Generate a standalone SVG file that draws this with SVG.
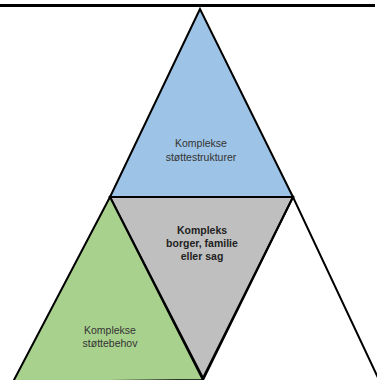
<svg xmlns="http://www.w3.org/2000/svg" width="377" height="380" viewBox="0 0 377 380">
<style>
.tri{stroke:#000;stroke-width:2;stroke-linejoin:miter}
.t{font-family:"Liberation Sans",Arial,sans-serif;font-size:10.5px;fill:#333;text-anchor:middle}
.b{font-weight:bold;fill:#222}
</style>
<rect width="377" height="380" fill="#fff"/>
<line x1="0" y1="5.5" x2="375" y2="5.5" stroke="#000" stroke-width="3"/>
<g id="node-top">
<polygon class="tri" points="200,9 110,197 293,197" fill="#9DC3E6"/>
<text class="t" x="201" y="147">Komplekse</text>
<text class="t" x="201" y="161">støttestrukturer</text>
</g>
<g id="node-center">
<polygon class="tri" points="110,197 293,197 203,378" fill="#BFBFBF"/>
<text class="t b" x="202" y="234">Kompleks</text>
<text class="t b" x="202" y="247">borger, familie</text>
<text class="t b" x="202" y="260">eller sag</text>
</g>
<g id="node-left">
<polygon class="tri" points="110,197 203,380 13,382 14,380" fill="#A9D18E"/>
<text class="t" x="110" y="334">Komplekse</text>
<text class="t" x="110" y="347">støttebehov</text>
</g>
<g id="node-right">
<polyline class="tri" points="203,380 293,197 380,382" fill="none" stroke-width="2.5"/>
</g>
<g id="connectors"/>
</svg>
